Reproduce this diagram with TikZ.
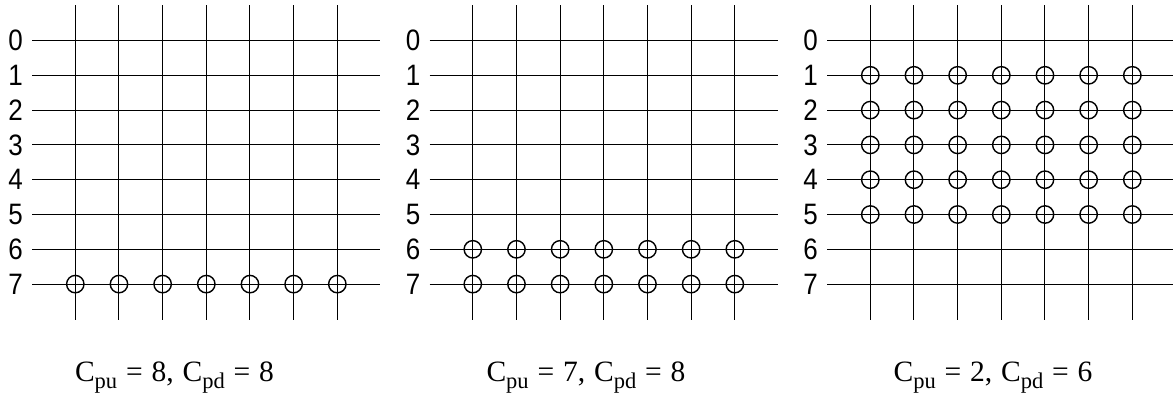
\documentclass[tikz,border=0pt]{standalone}
\usepackage{fontspec}
\setmainfont{Liberation Serif}
\newfontfamily\rowfont[FakeStretch=0.88]{Liberation Sans}
\usetikzlibrary{positioning}
\newcommand{\lowsub}[1]{\raisebox{-0.24em}{\fontsize{16}{16}\selectfont #1}}
\newcommand{\capfont}{\fontsize{21}{23}\selectfont\spaceskip 0.3em\relax}

\begin{document}
\begin{tikzpicture}[
    x=0.025cm,y=-0.025cm,
    wire/.style={draw=black,line width=0.7pt},
    cell/.style={circle,draw=black,line width=1pt,minimum size=0.435cm,inner sep=0pt},
    rowlbl/.style={font=\rowfont\fontsize{21}{23}\selectfont,inner sep=0pt},
    caption/.style={font=\capfont,inner sep=0pt},
]
\useasboundingbox(0,0)rectangle(1173,396);
% three grids, 8 rows x 7 columns
\foreach \p/\dx/\rows in {1/0/{7},2/397.5/{6,7},3/795/{1,2,3,4,5}}{
    \foreach \r in {0,...,7}{
        \draw[wire](32+\dx,40.5+34.8*\r)--(380+\dx,40.5+34.8*\r);
        \node[rowlbl](lbl-\p-\r)at(15.5+\dx,40.5+34.8*\r){\r};
    }
    \foreach \c in {1,...,7}
        \draw[wire](75.3+\dx+43.67*\c-43.67,5)--(75.3+\dx+43.67*\c-43.67,320);
    \foreach \r in \rows
        \foreach \c in {1,...,7}
            \node[cell](dot-\p-\r-\c)at(75.3+\dx+43.67*\c-43.67,40.5+34.8*\r){};
}
\node[caption,anchor=base](cap1)at(174.5,381.5){C\lowsub{pu} = 8, C\lowsub{pd} = 8};
\node[caption,anchor=base](cap2)at(586,381.5){C\lowsub{pu} = 7, C\lowsub{pd} = 8};
\node[caption,anchor=base](cap3)at(993,381.5){C\lowsub{pu} = 2, C\lowsub{pd} = 6};
\end{tikzpicture}
\end{document}
